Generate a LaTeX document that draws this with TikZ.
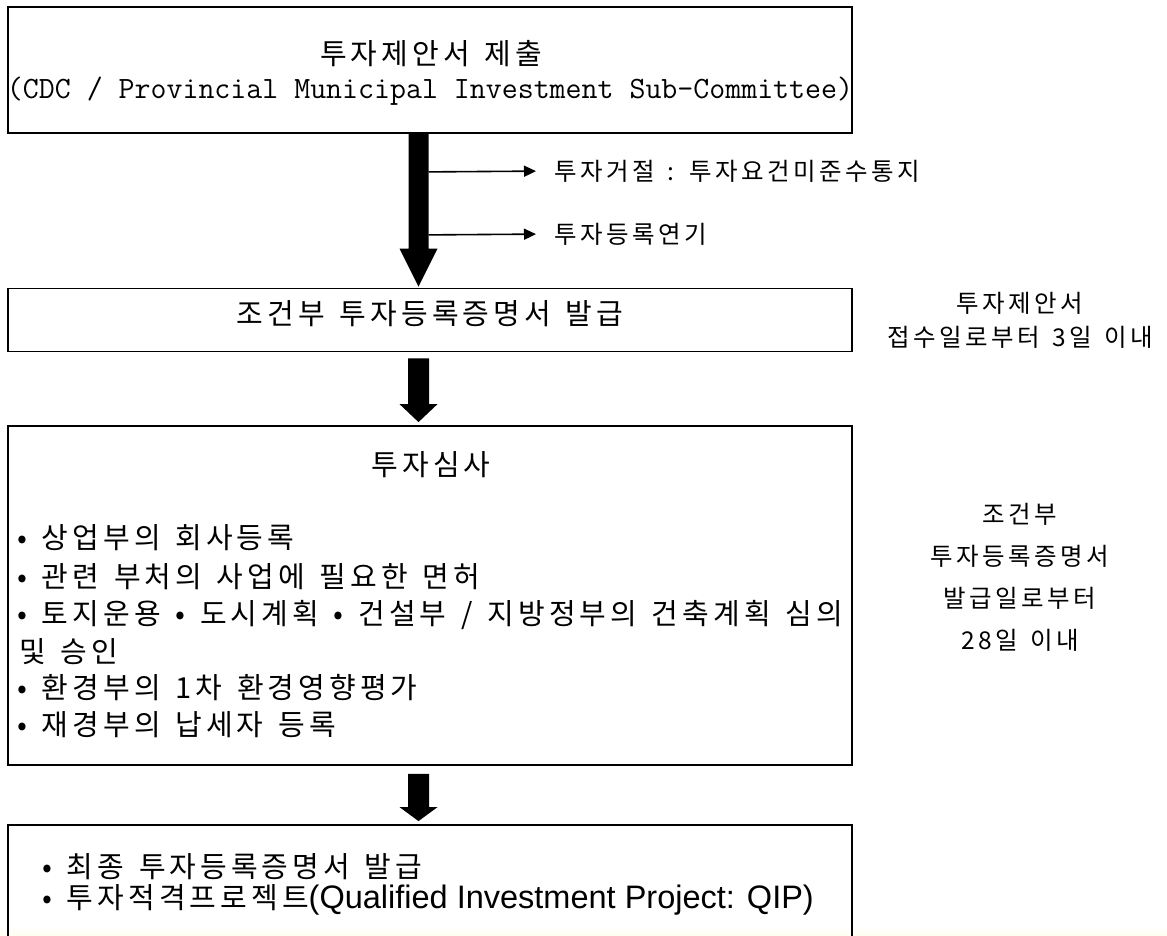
\documentclass[tikz,border=0pt]{standalone}
\usepackage{fontspec}
\newfontfamily\kr[LetterSpace=14,WordSpace=1.4]{Noto Sans CJK KR}
\newfontfamily\lat{Liberation Sans}
\usetikzlibrary{arrows.meta,calc}
\begin{document}
\begin{tikzpicture}[x=1pt,y=-1pt,
  box/.style={draw=black, line width=1.8pt, rectangle, inner sep=0pt},
  maintext/.style={font=\kr\fontsize{29}{32}\selectfont, inner sep=0pt},
  sidetext/.style={font=\kr\fontsize{24.5}{28}\selectfont, inner sep=0pt},
  monotext/.style={font=\ttfamily\fontsize{31}{34}\selectfont, inner sep=0pt},
  thinarrow/.style={line width=1.6pt, -{Triangle[length=12pt,width=11pt]}},
]
\useasboundingbox (0,0) rectangle (1167,936);
\fill[white] (0,0) rectangle (1167,936);
\fill[yellow!5] (0,929) rectangle (1167,936);
\begin{scope}
\clip (0,0) rectangle (1167,936);
% boxes
\node[box, minimum width=844pt, minimum height=126pt] (b1) at (430,70) {};
\node[box, minimum width=844pt, minimum height=63pt] (b2) at (430,320) {};
\node[box, minimum width=844pt, minimum height=339pt] (b3) at (430,595.5) {};
\node[box, minimum width=844pt, minimum height=130pt] (b4) at (430,890) {};
\coordinate (ax) at (418.5,0);
% box texts
\node[maintext] (t1a) at (431,54) {투자제안서 제출};
\node[monotext] (t1b) at (430,91) {(CDC / Provincial Municipal Investment Sub-Committee)};
\node[maintext] (t2) at (430,314) {조건부 투자등록증명서 발급};
\node[maintext] (t3) at (431,465) {투자심사};
\node[maintext, anchor=west] (l1) at (17,538) {• 상업부의 회사등록};
\node[maintext, anchor=west] (l2) at (17,577) {• 관련 부처의 사업에 필요한 면허};
\node[maintext, anchor=west] (l3) at (17,615) {• 토지운용 • 도시계획 • 건설부 / 지방정부의 건축계획 심의};
\node[maintext, anchor=west] (l4) at (19,652) {및 승인};
\node[maintext, anchor=west] (l5) at (17,688) {• 환경부의 1차 환경영향평가};
\node[maintext, anchor=west] (l6) at (17,725) {• 재경부의 납세자 등록};
\node[maintext, anchor=west] (f1) at (42,867) {• 최종 투자등록증명서 발급};
\node[maintext, anchor=west] (f2) at (42,900) {• 투자적격프로젝트{\lat\fontsize{32.5}{36}\selectfont(Qualified Investment Project: QIP)}};
% right-hand notes
\node[sidetext, align=center, font=\kr\fontsize{24.5}{34}\selectfont] (n1) at (1020,320) {투자제안서\\접수일로부터 3일 이내};
\node[sidetext, align=center, font=\kr\fontsize{24.5}{42}\selectfont] (n2) at (1020,577) {조건부\\투자등록증명서\\발급일로부터\\28일 이내};
% big arrows
\coordinate (a1s) at (b1.south -| ax);
\coordinate (a1e) at ($(b2.north -| ax)+(0,-1)$);
\fill ($(a1s)+(-10,0)$) -- ($(a1e)+(-10,-38)$) -- ($(a1e)+(-19,-38)$) -- (a1e)
  -- ($(a1e)+(19,-38)$) -- ($(a1e)+(10,-38)$) -- ($(a1s)+(10,0)$) -- cycle;
\coordinate (a2s) at ($(b2.south -| ax)+(0,6)$);
\coordinate (a2e) at ($(b3.north -| ax)+(0,-3)$);
\fill ($(a2s)+(-10.5,0)$) -- ($(a2e)+(-10.5,-18)$) -- ($(a2e)+(-19,-18)$) -- (a2e)
  -- ($(a2e)+(19,-18)$) -- ($(a2e)+(10.5,-18)$) -- ($(a2s)+(10.5,0)$) -- cycle;
\coordinate (a3s) at ($(b3.south -| ax)+(0,8)$);
\coordinate (a3e) at ($(b4.north -| ax)+(0,-3)$);
\fill ($(a3s)+(-10.5,0)$) -- ($(a3e)+(-10.5,-14)$) -- ($(a3e)+(-19,-14)$) -- (a3e)
  -- ($(a3e)+(19,-14)$) -- ($(a3e)+(10.5,-14)$) -- ($(a3s)+(10.5,0)$) -- cycle;
% side branches
\node[sidetext, anchor=west] (r1) at (554,171) {투자거절 : 투자요건미준수통지};
\node[sidetext, anchor=west] (r2) at (554,234) {투자등록연기};
\coordinate (s1) at ($(a1s)+(10,38)$);
\coordinate (s2) at ($(a1s)+(10,101)$);
\draw[thinarrow, shorten >=18pt] (s1) -- (r1.west);
\draw[thinarrow, shorten >=18pt] (s2) -- (r2.west);
\end{scope}
\end{tikzpicture}
\end{document}
